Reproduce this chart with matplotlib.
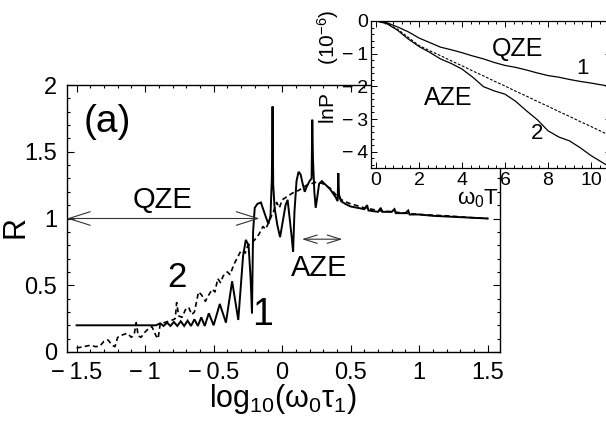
import matplotlib
matplotlib.use("Agg")
import matplotlib.pyplot as plt
from matplotlib.ticker import FixedLocator, FixedFormatter, MultipleLocator

plt.rcParams['font.family'] = ['Liberation Sans', 'DejaVu Sans']
plt.rcParams['mathtext.fontset'] = 'custom'
plt.rcParams['mathtext.rm'] = 'Liberation Sans'
plt.rcParams['mathtext.it'] = 'Liberation Sans'
plt.rcParams['mathtext.default'] = 'regular'

# ---------------- main panel data ----------------
curve1_x = [-1.50, -0.92, -0.89, -0.865, -0.84, -0.815, -0.79, -0.765, -0.74, -0.715,
            -0.69, -0.665, -0.64, -0.615, -0.59, -0.565, -0.535, -0.50, -0.455, -0.41,
            -0.365, -0.32, -0.285, -0.265, -0.245, -0.23, -0.22, -0.212, -0.20, -0.18,
            -0.155, -0.135, -0.115, -0.10, -0.085, -0.075, -0.07, -0.065, -0.055, -0.035,
            -0.015, 0.005, 0.025, 0.04, 0.055, 0.07, 0.08, 0.09, 0.105, 0.12,
            0.135, 0.15, 0.165, 0.18, 0.20, 0.215, 0.22, 0.225, 0.235, 0.245,
            0.255, 0.27, 0.29, 0.31, 0.33, 0.35, 0.37, 0.39, 0.405, 0.41,
            0.415, 0.43, 0.46, 0.50, 0.55, 0.60, 0.62, 0.63, 0.70, 0.72,
            0.73, 0.80, 0.82, 0.83, 0.90, 0.92, 0.93, 1.00, 1.10, 1.20,
            1.30, 1.40, 1.50]
curve1_r = [0.20, 0.20, 0.215, 0.195, 0.22, 0.195, 0.225, 0.195, 0.23, 0.195,
            0.235, 0.195, 0.245, 0.195, 0.26, 0.195, 0.29, 0.20, 0.36, 0.22,
            0.53, 0.24, 0.72, 0.84, 0.80, 0.55, 0.29, 0.90, 1.08, 1.11,
            1.12, 1.06, 1.00, 0.96, 1.02, 1.30, 1.84, 1.25, 1.08, 0.95,
            0.86, 0.98, 1.10, 1.14, 1.00, 0.86, 0.75, 1.05, 1.28, 1.35,
            1.33, 1.26, 1.20, 1.24, 1.28, 1.30, 1.74, 1.45, 1.20, 1.08,
            1.15, 1.26, 1.28, 1.26, 1.24, 1.22, 1.19, 1.16, 1.13, 1.34,
            1.18, 1.13, 1.11, 1.09, 1.08, 1.07, 1.10, 1.06, 1.05, 1.08,
            1.05, 1.05, 1.07, 1.04, 1.04, 1.06, 1.03, 1.03, 1.02, 1.015,
            1.01, 1.005, 1.00]

curve2_x = [-1.50, -1.45, -1.40, -1.36, -1.33, -1.30, -1.27, -1.24, -1.22, -1.20,
            -1.16, -1.13, -1.10, -1.08, -1.065, -1.05, -1.03, -1.00, -0.97, -0.95,
            -0.92, -0.905, -0.89, -0.86, -0.83, -0.80, -0.78, -0.77, -0.755, -0.73,
            -0.70, -0.68, -0.66, -0.64, -0.61, -0.59, -0.56, -0.54, -0.51, -0.49,
            -0.47, -0.45, -0.43, -0.40, -0.38, -0.35, -0.32, -0.30, -0.27, -0.25,
            -0.22, -0.20, -0.17, -0.14, -0.12, -0.09, -0.06, -0.04, -0.02, 0.00,
            0.03, 0.06, 0.09, 0.12, 0.15, 0.18, 0.21, 0.24, 0.27, 0.30,
            0.33, 0.36, 0.39, 0.42, 0.45, 0.50, 0.60, 0.70, 0.80, 0.90,
            1.00, 1.20, 1.40, 1.50]
curve2_r = [0.03, 0.04, 0.05, 0.04, 0.045, 0.08, 0.09, 0.05, 0.04, 0.11,
            0.13, 0.14, 0.11, 0.13, 0.22, 0.12, 0.11, 0.15, 0.18, 0.19,
            0.12, 0.10, 0.21, 0.22, 0.23, 0.24, 0.25, 0.37, 0.27, 0.26,
            0.33, 0.33, 0.28, 0.30, 0.45, 0.43, 0.38, 0.42, 0.47, 0.45,
            0.55, 0.52, 0.57, 0.60, 0.58, 0.66, 0.72, 0.76, 0.74, 0.80,
            0.82, 0.84, 0.88, 0.94, 0.92, 0.99, 1.06, 1.12, 1.08, 1.14,
            1.16, 1.18, 1.20, 1.21, 1.23, 1.25, 1.26, 1.27, 1.27, 1.26,
            1.24, 1.22, 1.18, 1.15, 1.13, 1.11, 1.08, 1.06, 1.05, 1.04,
            1.03, 1.02, 1.005, 1.00]

main_xticks = [-1.5, -1.0, -0.5, 0.0, 0.5, 1.0, 1.5]
main_xlabels = ['\u2212\u20091.5', '\u2212\u20091', '\u2212\u20090.5', '0', '0.5', '1', '1.5']
main_yticks = [0, 0.5, 1, 1.5, 2]
main_ylabels = ['0', '0.5', '1', '1.5', '2']

# ---------------- inset data ----------------
inset_t = [0, 0.5, 1, 1.5, 2, 2.5, 3, 3.5, 4, 4.5, 5, 5.5, 6, 6.5, 7, 7.5, 8, 8.5,
           9, 9.5, 10, 10.7]
inset_qze = [0, -0.05, -0.18, -0.33, -0.52, -0.66, -0.80, -0.88, -0.97, -1.07, -1.16,
             -1.27, -1.36, -1.42, -1.50, -1.59, -1.67, -1.72, -1.79, -1.85, -1.90, -1.98]
inset_ref = [0, -0.07, -0.25, -0.50, -0.75, -0.91, -1.06, -1.22, -1.37, -1.53, -1.68,
             -1.84, -1.99, -2.15, -2.30, -2.46, -2.61, -2.77, -2.92, -3.08, -3.23, -3.45]
inset_aze = [0, -0.08, -0.28, -0.55, -0.78, -0.96, -1.16, -1.30, -1.47, -1.72, -2.01,
             -2.14, -2.24, -2.46, -2.75, -3.02, -3.36, -3.55, -3.67, -3.88, -4.12, -4.40]
inset_xticks = [0, 2, 4, 6, 8, 10]
inset_xlabels = ['0', '2', '4', '6', '8', '10']
inset_yticks = [0, -1, -2, -3, -4]
inset_ylabels = ['0', '\u2212\u20091', '\u2212\u20092', '\u2212\u20093', '\u2212\u20094']

W, H = 606, 425
fig = plt.figure(figsize=(W / 100, H / 100), dpi=100)

# main axes: left 67, right 500, top 85, bottom 352 (pixels)
ax = fig.add_axes([67 / W, 1 - 352 / H, 433 / W, 267 / H])
ax.plot(curve1_x, curve1_r, color='black', lw=1.4, solid_joinstyle='miter')
ax.plot(curve2_x, curve2_r, color='black', lw=1.2, dashes=(3, 2))
ax.set_xlim(-1.57, 1.59)
ax.set_ylim(0, 2)
ax.xaxis.set_major_locator(FixedLocator(main_xticks))
ax.xaxis.set_major_formatter(FixedFormatter(main_xlabels))
ax.yaxis.set_major_locator(FixedLocator(main_yticks))
ax.yaxis.set_major_formatter(FixedFormatter(main_ylabels))
ax.xaxis.set_minor_locator(MultipleLocator(0.1))
ax.yaxis.set_minor_locator(MultipleLocator(0.1))
ax.tick_params(which='both', direction='in', top=True, right=True, labelsize=17, width=0.8)
ax.tick_params(which='major', length=5)
ax.tick_params(which='minor', length=2.5)
ax.tick_params(axis='x', which='major', pad=7)
ax.tick_params(axis='y', which='major', pad=7)
for s in ax.spines.values():
    s.set_linewidth(1.0)

ax.set_xlabel(r'$log_{10}(\omega_0\tau_1)$', fontsize=22, labelpad=-1)
fig.text(16 / W, 1 - 227 / H, 'R', rotation=90, fontsize=22, ha='center', va='center')

ax.text(-1.45, 1.72, '(a)', fontsize=28, ha='left', va='center')
ax.text(-0.87, 1.14, 'QZE', fontsize=21, ha='center', va='center')
ax.text(-0.77, 0.56, '2', fontsize=25, ha='center', va='center')
ax.text(-0.145, 0.28, '1', fontsize=27, ha='center', va='center')
ax.text(0.27, 0.63, 'AZE', fontsize=21, ha='center', va='center')

ax.annotate('', xy=(-1.57, 1.0), xytext=(-0.165, 1.0),
            arrowprops=dict(arrowstyle='<->,head_length=1.1,head_width=0.35',
                            lw=0.8, color='#333333', shrinkA=0, shrinkB=0,
                            mutation_scale=14))
ax.annotate('', xy=(0.145, 0.845), xytext=(0.44, 0.845),
            arrowprops=dict(arrowstyle='<->,head_length=0.8,head_width=0.25',
                            lw=0.8, color='#333333', shrinkA=0, shrinkB=0,
                            mutation_scale=12))

# inset axes: left 371, top 21, bottom 168, right beyond edge
axi = fig.add_axes([371 / W, 1 - 168 / H, 240 / W, 147 / H])
axi.set_facecolor('white')
axi.plot(inset_t, inset_qze, color='black', lw=0.9)
axi.plot(inset_t, inset_ref, color='black', lw=0.8, dashes=(2.5, 1.5))
axi.plot(inset_t, inset_aze, color='black', lw=0.9)
axi.set_xlim(-0.23, 10.93)
axi.set_ylim(-4.5, 0)
axi.xaxis.set_major_locator(FixedLocator(inset_xticks))
axi.xaxis.set_major_formatter(FixedFormatter(inset_xlabels))
axi.yaxis.set_major_locator(FixedLocator(inset_yticks))
axi.yaxis.set_major_formatter(FixedFormatter(inset_ylabels))
axi.xaxis.set_minor_locator(MultipleLocator(0.4))
axi.yaxis.set_minor_locator(MultipleLocator(0.2))
axi.tick_params(which='both', direction='in', top=True, right=True, labelsize=14, width=0.7)
axi.tick_params(which='major', length=4, pad=3)
axi.tick_params(axis='y', which='major', pad=2)
axi.tick_params(which='minor', length=2)
for s in axi.spines.values():
    s.set_linewidth(0.9)

axi.text(6.6, -0.85, 'QZE', fontsize=18, ha='center', va='center')
axi.text(9.6, -1.45, '1', fontsize=16, ha='center', va='center')
axi.text(3.35, -2.35, 'AZE', fontsize=18, ha='center', va='center')
axi.text(7.5, -3.45, '2', fontsize=16, ha='center', va='center')

fig.text(328 / W, 1 - 67 / H, r'$lnP\ \ \ \ \ (10^{-6})$', rotation=90, fontsize=15,
         ha='center', va='center')
fig.text(478 / W, 1 - 199 / H, r'$\omega_0T$', fontsize=16, ha='center', va='center')

fig.savefig('out.png', dpi=100)
